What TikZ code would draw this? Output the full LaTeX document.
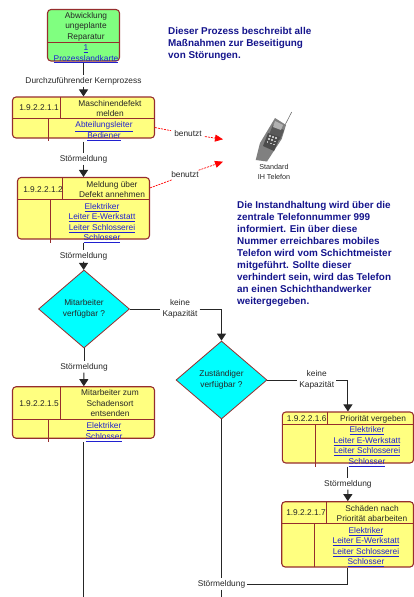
\documentclass[tikz,border=0pt]{standalone}
\usepackage{fontspec}
\setmainfont{Liberation Sans}
\usepackage{xcolor}
\definecolor{epcred}{HTML}{962D2D}
\definecolor{epcyellow}{HTML}{FFFF80}
\definecolor{epcgreen}{HTML}{80FF80}
\definecolor{epccyan}{HTML}{00FFFF}
\definecolor{epcnavy}{HTML}{14148C}
\definecolor{epclink}{HTML}{2020D0}
\definecolor{epctext}{HTML}{262626}
\usetikzlibrary{arrows.meta, positioning, shapes.geometric, calc}
\newcommand{\lnk}[1]{\textcolor{epclink}{\underline{#1}}}
\tikzset{
  base/.style={font=\fontsize{8.35}{10.5}\selectfont, text=epctext, align=center, inner sep=0pt},
  procbox/.style={draw=epcred, fill=epcyellow, rounded corners=3.5pt, line width=1.1pt, inner sep=0pt},
  startbox/.style={procbox, fill=epcgreen},
  decision/.style={base, diamond, draw=epcred, fill=epccyan, line width=0.8pt},
  divider/.style={draw=epcred, line width=0.9pt},
  flowlabel/.style={base, fill=white, inner xsep=2pt, inner ysep=1.5pt},
  flow/.style={draw=black!85, line width=1pt},
  flowarrow/.style={flow, -{Triangle[length=7pt, width=9pt]}},
  useslink/.style={draw=red, line width=0.7pt, dash pattern=on 2pt off 1pt},
  usesarrow/.style={useslink, -{Triangle[length=8pt, width=7pt]}},
  note/.style={font=\fontsize{9.9}{12}\selectfont\bfseries, text=epcnavy, align=left, anchor=north west, inner sep=0pt}
}
\begin{document}
\begin{tikzpicture}[x=1pt, y=-1pt]
    \useasboundingbox (0,0) rectangle (413,597);
    % Start box
    \node[startbox, minimum width=72pt, minimum height=51.5pt] (start) at (83.5,35.25) {};
    \draw[divider] (47.5,42.5) -- (119.5,42.5);
    \node[base] (starttitle) at (86,26.5) {Abwicklung\\ungeplante\\Reparatur};
    \node[base] (startlink) at (86,54) {\lnk{1}\\\lnk{Prozesslandkarte}};
    % Box 1
    \node[procbox, minimum width=142pt, minimum height=41pt] (box1) at (83.5,117.5) {};
    \draw[divider] (12.5,118.5) -- (154.5,118.5);
    \draw[divider] (60,97) -- (60,118.5);
    \draw[divider] (48,118.5) -- (48,141);
    \node[base] (id1) at (39,108) {1.9.2.2.1.1};
    \node[base] (title1) at (110,108.5) {Maschinendefekt\\melden};
    \node[base] (link1) at (104,131) {\lnk{Abteilungsleiter}\\\lnk{Bediener}};
    % Box 2
    \node[procbox, minimum width=132pt, minimum height=61.5pt] (box2) at (83.5,208.25) {};
    \draw[divider] (17.5,199) -- (149.5,199);
    \draw[divider] (62,177.5) -- (62,199);
    \draw[divider] (50.5,199) -- (50.5,243);
    \node[base] (id2) at (43,189.5) {1.9.2.2.1.2};
    \node[base] (title2) at (112,189.5) {Meldung über\\Defekt annehmen};
    \node[base] (link2) at (102,223) {\lnk{Elektriker}\\\lnk{Leiter E-Werkstatt}\\\lnk{Leiter Schlosserei}\\\lnk{Schlosser}};
    % Decisions
    \node[decision, minimum width=91pt, minimum height=78pt, aspect=1.17, inner sep=0pt] (dec1) at (84,309) {Mitarbeiter\\verfügbar ?};
    \node[decision, minimum width=91pt, minimum height=78pt, aspect=1.17, inner sep=0pt] (dec2) at (221.5,380) {Zuständiger\\verfügbar ?};
    % Box 5
    \node[procbox, minimum width=142pt, minimum height=51.5pt] (box5) at (83.5,412.5) {};
    \draw[divider] (12.5,419.5) -- (154.5,419.5);
    \draw[divider] (60,386.7) -- (60,419.5);
    \draw[divider] (48,419.5) -- (48,441.7);
    \node[base] (id5) at (39,404) {1.9.2.2.1.5};
    \node[base] (title5) at (110,403.5) {Mitarbeiter zum\\Schadensort\\entsenden};
    \node[base] (link5) at (104,432) {\lnk{Elektriker}\\\lnk{Schlosser}};
    % Box 6
    \node[procbox, minimum width=131.2pt, minimum height=51pt] (box6) at (347.9,437.5) {};
    \draw[divider] (282.3,424) -- (413.5,424);
    \draw[divider] (327,412) -- (327,424);
    \draw[divider] (315.3,424) -- (315.3,466.7);
    \node[base] (id6) at (306.7,418.5) {1.9.2.2.1.6};
    \node[base] (title6) at (373,419) {Priorität vergeben};
    \node[base] (link6) at (367,446.5) {\lnk{Elektriker}\\\lnk{Leiter E-Werkstatt}\\\lnk{Leiter Schlosserei}\\\lnk{Schlosser}};
    % Box 7
    \node[procbox, minimum width=131.8pt, minimum height=65.3pt] (box7) at (347.6,534.35) {};
    \draw[divider] (281.7,523.7) -- (413.5,523.7);
    \draw[divider] (326.3,501.7) -- (326.3,523.7);
    \draw[divider] (314.7,523.7) -- (314.7,567);
    \node[base] (id7) at (306,513) {1.9.2.2.1.7};
    \node[base] (title7) at (372,513.5) {Schäden nach\\Priorität abarbeiten};
    \node[base] (link7) at (366,547) {\lnk{Elektriker}\\\lnk{Leiter E-Werkstatt}\\\lnk{Leiter Schlosserei}\\\lnk{Schlosser}};
    % Flow labels
    \node[flowlabel] (kern) at (83.5,81) {Durchzuführender Kernprozess};
    \node[flowlabel] (msg1) at (83.5,159) {Störmeldung};
    \node[flowlabel] (msg2) at (83.5,256) {Störmeldung};
    \node[flowlabel] (msg3) at (84,367) {Störmeldung};
    \node[flowlabel] (msg4) at (347.9,484) {Störmeldung};
    \node[flowlabel] (msg5) at (221.5,584) {Störmeldung};
    \node[flowlabel] (cap1) at (180,309) {keine\\Kapazität};
    \node[flowlabel] (cap2) at (316.7,380) {keine\\Kapazität};
    \coordinate (end1) at (83.5,597);
    \coordinate (end2) at (221.5,597);
    % Connectors
    \draw[flow, shorten <=1.5pt] (start) -- (kern);
    \draw[flowarrow] (kern) -- (box1);
    \draw[flow, shorten <=3pt] (box1) -- (msg1);
    \draw[flowarrow] (msg1) -- (box2);
    \draw[flow, shorten <=3pt] (box2) -- (msg2);
    \draw[flowarrow] (msg2) -- (dec1);
    \draw[flow] (dec1) -- (msg3);
    \draw[flowarrow] (msg3) -- (box5);
    \draw[flow, shorten <=3.5pt] (box5) -- (end1);
    \draw[flow] (dec1) -- (cap1);
    \draw[flowarrow] (cap1) -| (dec2);
    \draw[flow] (dec2) -- (cap2);
    \draw[flowarrow] (cap2) -| (box6);
    \draw[flow, shorten <=3pt] (box6) -- (msg4);
    \draw[flowarrow] (msg4) -- (box7);
    \draw[flow] (box7) |- (msg5);
    \draw[flow] (dec2) -- (msg5);
    \draw[flow] (msg5) -- (end2);
    % Telephone
    \draw[black!55, line width=0.6pt] (285,125) -- (291.7,112);
    \fill[black!50] (275,118) -- (286,125) -- (281.7,139) -- (267,161.5) -- (255.7,160) -- (260,143) -- cycle;
    \fill[black!65] (273,125) -- (284,130) -- (280,140) -- (268,137) -- cycle;
    \fill[black!30] (275,121) -- (283,125) -- (281,130) -- (273,127) -- cycle;
    \fill[black!70] (268,133) -- (280,137) -- (274,151) -- (263,146) -- cycle;
    \foreach \r in {0,1,2} \foreach \c in {0,1,2}
      \fill[black!25] ($(269,135)+(\c*3.2+\r*-1.2,\c*1.2+\r*3.2)$) rectangle +(1.8,1.6);
    \node[base, font=\fontsize{7.2}{10}\selectfont] (phone) at (274,172) {Standard\\IH Telefon};
    \coordinate (tel1) at (223,139.3);
    \coordinate (tel2) at (223,161.7);
    % Uses links
    \node[flowlabel, inner xsep=3pt] (uses1) at (188,134) {benutzt};
    \node[flowlabel, inner xsep=3pt] (uses2) at (185,175) {benutzt};
    \draw[useslink] (box1.-8) -- (uses1);
    \draw[usesarrow] (uses1) -- (tel1);
    \draw[useslink] (box2.17) -- (uses2);
    \draw[usesarrow] (uses2) -- (tel2);
    % Notes
    \node[note] (note1) at (168,27) {Dieser Prozess beschreibt alle\\Maßnahmen zur Beseitigung\\von Störungen.};
    \node[note] (note2) at (237,201) {Die Instandhaltung wird über die\\zentrale Telefonnummer 999\\informiert. Ein über diese\\Nummer erreichbares mobiles\\Telefon wird vom Schichtmeister\\mitgeführt. Sollte dieser\\verhindert sein, wird das Telefon\\an einen Schichthandwerker\\weitergegeben.};
\end{tikzpicture}
\end{document}
